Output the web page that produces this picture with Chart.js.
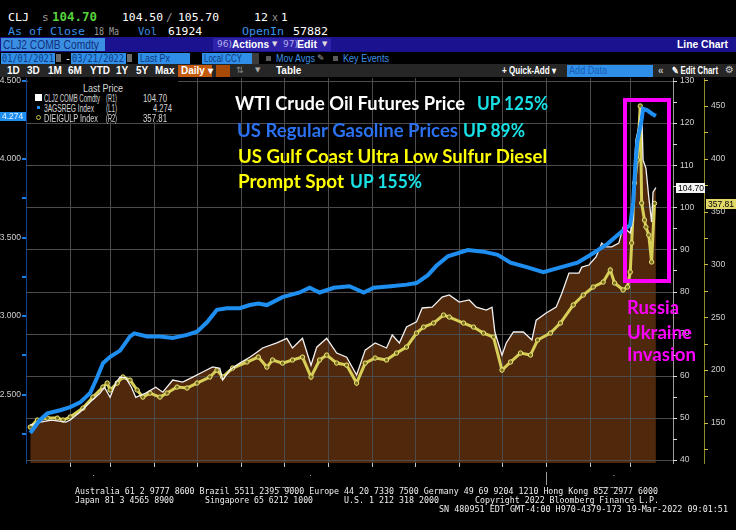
<!DOCTYPE html>
<html>
<head>
<meta charset="utf-8">
<title>WTI, gasoline and diesel</title>
<script src="https://cdn.jsdelivr.net/npm/chart.js@4.4.1/dist/chart.umd.min.js"></script>
<style>
  body { margin:0; width:736px; height:530px; background:#000; overflow:hidden; position:relative; }
  canvas { position:absolute; left:0; top:66px; }
  .t { position:absolute; white-space:nowrap; line-height:1; transform-origin:left center; }
  .m { font-family:"DejaVu Sans Mono", monospace; }
  .s { font-family:"DejaVu Sans", sans-serif; }
  .n { font-family:"Liberation Sans", sans-serif; }
  .b { position:absolute; }
  .ann { position:absolute; white-space:nowrap; line-height:1; font-family:Lato, sans-serif; font-weight:700; font-size:18px; transform-origin:left center; }
</style>
</head>
<body>
<canvas id="chart" width="736" height="464"></canvas>

<!-- ticker rows -->
<div class="t m" style="left:8px;top:12px;font-size:11px;color:#fff" data-w="21">CLJ</div>
<div class="t m" style="left:42px;top:12px;font-size:11px;color:#9a9a9a">s</div>
<div class="t m" style="left:52px;top:11px;font-size:12px;color:#58d23c;font-weight:bold" data-w="45">104.70</div>
<div class="t m" style="left:122px;top:12px;font-size:11px;color:#fff" data-w="41">104.50</div>
<div class="t m" style="left:166px;top:12px;font-size:11px;color:#9a9a9a">/</div>
<div class="t m" style="left:178px;top:12px;font-size:11px;color:#fff" data-w="41">105.70</div>
<div class="t m" style="left:254px;top:12px;font-size:11px;color:#fff" data-w="14">12</div>
<div class="t m" style="left:272px;top:13px;font-size:10px;color:#9a9a9a">x</div>
<div class="t m" style="left:281px;top:12px;font-size:11px;color:#fff">1</div>

<div class="t m" style="left:8px;top:26px;font-size:11px;color:#3a93ea" data-w="77">As of Close</div>
<div class="t m" style="left:94px;top:26px;font-size:11px;color:#9a9a9a" data-w="25">18 Ma</div>
<div class="t m" style="left:138px;top:26px;font-size:11px;color:#3a93ea" data-w="19">Vol</div>
<div class="t m" style="left:168px;top:26px;font-size:11px;color:#fff" data-w="34">61924</div>
<div class="t m" style="left:242px;top:26px;font-size:11px;color:#3a93ea" data-w="42">OpenIn</div>
<div class="t m" style="left:293px;top:26px;font-size:11px;color:#fff" data-w="35">57882</div>

<!-- security bar -->
<div class="b" style="left:0;top:37px;width:736px;height:15px;background:#1b1290"></div>
<div class="b" style="left:1px;top:38px;width:104px;height:13px;background:#3a8fe3"></div>
<div class="t n" style="left:3px;top:39px;font-size:12px;color:#14307e" data-w="96">CLJ2 COMB Comdty</div>
<div class="b" style="left:213px;top:38px;width:118px;height:13px;background:#2e22a8"></div>
<div class="t s" style="left:217px;top:40px;font-size:9px;color:#b4acec">96)</div>
<div class="t n" style="left:232px;top:39px;font-size:11px;color:#fff;font-weight:bold" data-w="37">Actions</div>
<div class="t s" style="left:272px;top:41px;font-size:7px;color:#ddd">▼</div>
<div class="t s" style="left:283px;top:40px;font-size:9px;color:#b4acec">97)</div>
<div class="t n" style="left:297px;top:39px;font-size:11px;color:#fff;font-weight:bold" data-w="20">Edit</div>
<div class="t s" style="left:322px;top:41px;font-size:7px;color:#ddd">▼</div>
<div class="t n" style="left:677px;top:39px;font-size:11px;color:#fff;font-weight:bold" data-w="51">Line Chart</div>

<!-- date range row -->
<div class="b" style="left:1px;top:53px;width:54px;height:11px;background:#2f8fe8"></div>
<div class="t m" style="left:2px;top:54px;font-size:10px;color:#123a80" data-w="52">01/01/2021</div>
<div class="b" style="left:56px;top:54px;width:5px;height:8px;background:#6a6a6a"></div>
<div class="t m" style="left:65px;top:54px;font-size:10px;color:#fff">-</div>
<div class="b" style="left:71px;top:53px;width:55px;height:11px;background:#2f8fe8"></div>
<div class="t m" style="left:72px;top:54px;font-size:10px;color:#123a80" data-w="52">03/21/2022</div>
<div class="b" style="left:127px;top:54px;width:5px;height:8px;background:#6a6a6a"></div>
<div class="b" style="left:138px;top:53px;width:52px;height:11px;background:#2f8fe8"></div>
<div class="t n" style="left:140px;top:54px;font-size:10px;color:#123a80" data-w="30">Last Px</div>
<div class="b" style="left:202px;top:53px;width:50px;height:11px;background:#2f8fe8"></div>
<div class="t n" style="left:204px;top:54px;font-size:10px;color:#123a80" data-w="38">Local CCY</div>
<div class="b" style="left:252px;top:53px;width:7px;height:11px;background:#3c3c3c"></div>
<div class="b" style="left:266px;top:56px;width:5px;height:5px;background:#5a5a5a"></div>
<div class="t n" style="left:276px;top:54px;font-size:10px;color:#3b8fe6" data-w="39">Mov Avgs</div>
<div class="t s" style="left:317px;top:54px;font-size:9px;color:#aaa">✎</div>
<div class="b" style="left:333px;top:56px;width:5px;height:5px;background:#5a5a5a"></div>
<div class="t n" style="left:343px;top:54px;font-size:10px;color:#3b8fe6" data-w="46">Key Events</div>

<!-- period row -->
<div class="b" style="left:0;top:64px;width:736px;height:13px;background:#262626"></div>
<div class="t n" style="left:7px;top:66px;font-size:10px;color:#fff;font-weight:bold">1D</div>
<div class="t n" style="left:27px;top:66px;font-size:10px;color:#fff;font-weight:bold">3D</div>
<div class="t n" style="left:48px;top:66px;font-size:10px;color:#fff;font-weight:bold">1M</div>
<div class="t n" style="left:68px;top:66px;font-size:10px;color:#fff;font-weight:bold">6M</div>
<div class="t n" style="left:90px;top:66px;font-size:10px;color:#fff;font-weight:bold">YTD</div>
<div class="t n" style="left:116px;top:66px;font-size:10px;color:#fff;font-weight:bold">1Y</div>
<div class="t n" style="left:136px;top:66px;font-size:10px;color:#fff;font-weight:bold">5Y</div>
<div class="t n" style="left:155px;top:66px;font-size:10px;color:#fff;font-weight:bold">Max</div>
<div class="b" style="left:178px;top:65px;width:34px;height:12px;background:#c45a0c"></div>
<div class="t n" style="left:181px;top:66px;font-size:10px;color:#fff;font-weight:bold">Daily ▾</div>
<div class="b" style="left:216px;top:65px;width:14px;height:12px;background:#a84a08"></div>
<div class="t s" style="left:236px;top:66px;font-size:9px;color:#888">⇅</div>
<div class="t s" style="left:255px;top:67px;font-size:7px;color:#aaa">▼</div>
<div class="t n" style="left:276px;top:66px;font-size:10px;color:#fff;font-weight:bold">Table</div>
<div class="t n" style="left:502px;top:66px;font-size:10px;color:#fff;font-weight:bold" data-w="54">+ Quick-Add ▾</div>
<div class="b" style="left:567px;top:65px;width:86px;height:12px;background:#2f8fe8"></div>
<div class="t n" style="left:569px;top:66px;font-size:10px;color:#1b5cb0" data-w="38">Add Data</div>
<div class="t n" style="left:658px;top:66px;font-size:10px;color:#bbb;font-weight:bold">«</div>
<div class="t n" style="left:672px;top:66px;font-size:10px;color:#fff;font-weight:bold" data-w="46">✎ Edit Chart</div>
<div class="t s" style="left:725px;top:65px;font-size:10px;color:#ccc">⚙</div>

<!-- legend -->
<div class="b" style="left:28px;top:78px;width:150px;height:44px;background:#000"></div>
<div class="t n" style="left:83px;top:84px;font-size:10px;color:#d8d8d8" data-w="40">Last Price</div>
<div class="b" style="left:35px;top:94px;width:7px;height:7px;background:#fff"></div>
<div class="t n" style="left:44px;top:94px;font-size:10px;color:#d8d8d8" data-w="56">CLJ2 COMB Comdty</div>
<div class="t n" style="left:106px;top:94px;font-size:10px;color:#d8d8d8" data-w="11">(R1)</div>
<div class="t n" style="left:143px;top:94px;font-size:10px;color:#d8d8d8" data-w="24">104.70</div>
<div class="b" style="left:37px;top:106px;width:3px;height:3px;background:#1e8ff0"></div>
<div class="t n" style="left:44px;top:104px;font-size:10px;color:#d8d8d8" data-w="50">3AGSREG Index</div>
<div class="t n" style="left:106px;top:104px;font-size:10px;color:#d8d8d8" data-w="11">(L1)</div>
<div class="t n" style="left:153px;top:104px;font-size:10px;color:#d8d8d8" data-w="19">4.274</div>
<div class="b" style="left:36px;top:115px;width:3px;height:3px;border:1px solid #c8c040;border-radius:50%"></div>
<div class="t n" style="left:44px;top:114px;font-size:10px;color:#d8d8d8" data-w="54">DIEIGULP Index</div>
<div class="t n" style="left:106px;top:114px;font-size:10px;color:#d8d8d8" data-w="11">(R2)</div>
<div class="t n" style="left:143px;top:114px;font-size:10px;color:#d8d8d8" data-w="24">357.81</div>

<!-- last value tags -->
<div class="b" style="left:0;top:112px;width:26px;height:9px;background:#1e8ff0"></div>
<div class="t n" style="left:2px;top:112px;font-size:8.5px;color:#e8f2ff">4.274</div>
<div class="b" style="left:676px;top:183px;width:29px;height:10px;background:#f4f4f4"></div>
<div class="t n" style="left:678px;top:184px;font-size:8.5px;color:#000">104.70</div>
<div class="b" style="left:706px;top:199px;width:30px;height:10px;background:#e2d868"></div>
<div class="t n" style="left:708px;top:200px;font-size:8.5px;color:#000">357.81</div>

<!-- annotations -->
<div class="ann" style="left:235px;top:94px;color:#fff" data-w="230">WTI Crude Oil Futures Price</div>
<div class="ann" style="left:477px;top:94px;color:#19e2e6" data-w="71">UP 125%</div>
<div class="ann" style="left:237px;top:121px;color:#2b70ee" data-w="221">US Regular Gasoline Prices</div>
<div class="ann" style="left:463px;top:121px;color:#19e2e6" data-w="62">UP 89%</div>
<div class="ann" style="left:238px;top:147px;color:#ffff00" data-w="309">US Gulf Coast Ultra Low Sulfur Diesel</div>
<div class="ann" style="left:238px;top:172px;color:#ffff00" data-w="106">Prompt Spot</div>
<div class="ann" style="left:350px;top:172px;color:#19e2e6" data-w="72">UP 155%</div>

<div class="b" style="left:623px;top:98px;width:40px;height:177px;border:4px solid #ff00ff"></div>
<div class="ann" style="left:627px;top:298px;color:#ff00ff" data-w="52">Russia</div>
<div class="ann" style="left:627px;top:323px;color:#ff00ff" data-w="65">Ukraine</div>
<div class="ann" style="left:627px;top:345px;color:#ff00ff" data-w="69">Invasion</div>

<!-- footer -->
<div class="t m" style="left:75px;top:487px;font-size:9px;color:#eee" data-w="583">Australia 61 2 9777 8600 Brazil 5511 2395 9000 Europe 44 20 7330 7500 Germany 49 69 9204 1210 Hong Kong 852 2977 6000</div>
<div class="t m" style="left:75px;top:496px;font-size:9px;color:#eee" data-w="99">Japan 81 3 4565 8900</div>
<div class="t m" style="left:205px;top:496px;font-size:9px;color:#eee" data-w="108">Singapore 65 6212 1000</div>
<div class="t m" style="left:344px;top:496px;font-size:9px;color:#eee" data-w="95">U.S. 1 212 318 2000</div>
<div class="t m" style="left:475px;top:496px;font-size:9px;color:#eee" data-w="184">Copyright 2022 Bloomberg Finance L.P.</div>
<div class="t m" style="left:439px;top:505px;font-size:9px;color:#eee" data-w="289">SN 480951 EDT  GMT-4:00 H970-4379-173 19-Mar-2022 09:01:51</div>

<script>
// data, Jan 2021 - Mar 2022
const monthLabels = ['Jan','Feb','Mar','Apr','May','Jun','Jul','Aug','Sep','Oct','Nov','Dec','Jan','Feb','Mar'];
const monthStarts = ['2021-01-01','2021-02-01','2021-03-01','2021-04-01','2021-05-01','2021-06-01','2021-07-01',
  '2021-08-01','2021-09-01','2021-10-01','2021-11-01','2021-12-01','2022-01-01','2022-02-01','2022-03-01','2022-04-01'];
const yearLabels = ['2021', '2022'];

// CLJ2 COMB Comdty, R1
const wtiDates = [
  '2021-01-04','2021-01-11','2021-01-19','2021-01-29',
  '2021-02-01','2021-02-08','2021-02-15','2021-02-22','2021-02-25',
  '2021-03-01','2021-03-05','2021-03-08','2021-03-12','2021-03-16','2021-03-19','2021-03-26',
  '2021-04-02','2021-04-07','2021-04-14','2021-04-21','2021-04-28',
  '2021-05-05','2021-05-12','2021-05-17','2021-05-19','2021-05-24','2021-05-31',
  '2021-06-07','2021-06-12','2021-06-16','2021-06-26',
  '2021-07-03','2021-07-07','2021-07-14','2021-07-20','2021-07-24','2021-07-31',
  '2021-08-07','2021-08-14','2021-08-21','2021-08-27',
  '2021-09-03','2021-09-11','2021-09-15','2021-09-20','2021-09-25',
  '2021-10-02','2021-10-06','2021-10-13','2021-10-20','2021-10-25',
  '2021-11-01','2021-11-08','2021-11-13','2021-11-20','2021-11-24','2021-11-26',
  '2021-12-01','2021-12-04','2021-12-09','2021-12-16','2021-12-22','2021-12-25',
  '2022-01-01','2022-01-08','2022-01-12','2022-01-17','2022-01-24','2022-01-26','2022-01-31',
  '2022-02-05','2022-02-09','2022-02-12','2022-02-16','2022-02-21','2022-02-24',
  '2022-03-01','2022-03-03','2022-03-04','2022-03-05','2022-03-07','2022-03-09','2022-03-10',
  '2022-03-12','2022-03-14','2022-03-16','2022-03-17','2022-03-19'
];
const wtiPrices = [
  48.3, 49.0, 49.5, 49.0,
  49.5, 51.4, 53.8, 55.9, 57.3,
  54.9, 58.3, 59.7, 59.5, 57.3, 54.9, 55.9,
  57.3, 56.1, 59.0, 58.5, 59.7,
  60.9, 62.1, 61.8, 59.0, 61.4, 63.0,
  64.4, 65.6, 66.6, 67.8,
  68.9, 66.6, 68.9, 62.5, 66.8, 68.9,
  65.4, 64.4, 60.2, 66.1,
  67.8, 66.6, 69.7, 67.8, 71.6,
  72.8, 76.1, 76.3, 78.7, 79.2,
  77.5, 78.0, 76.3, 75.6, 76.3, 70.4,
  64.9, 67.8, 70.4, 70.4, 68.5, 73.2,
  74.9, 76.3, 79.6, 84.4, 84.4, 85.8, 86.3,
  88.2, 91.5, 90.6, 90.6, 91.5, 95.3,
  93.9, 97.0, 110.5, 116.0, 119.1, 123.8, 111.2,
  109.3, 102.4, 96.5, 103.6, 104.7
];

// 3AGSREG Index, L1
const gasDates = [
  '2021-01-04','2021-01-11','2021-01-16','2021-01-25',
  '2021-02-01','2021-02-08','2021-02-15','2021-02-20','2021-02-24',
  '2021-03-01','2021-03-08','2021-03-15','2021-03-18','2021-03-27',
  '2021-04-05','2021-04-14','2021-04-24',
  '2021-05-01','2021-05-08','2021-05-15','2021-05-22','2021-05-31',
  '2021-06-07','2021-06-13','2021-06-19','2021-06-30',
  '2021-07-12','2021-07-19','2021-07-26',
  '2021-08-05','2021-08-16','2021-08-26',
  '2021-09-02','2021-09-14','2021-09-25',
  '2021-10-02','2021-10-10','2021-10-16','2021-10-24',
  '2021-11-07','2021-11-18','2021-11-28',
  '2021-12-07','2021-12-19','2021-12-30',
  '2022-01-11','2022-01-23',
  '2022-02-03','2022-02-13','2022-02-22',
  '2022-03-01','2022-03-03','2022-03-05','2022-03-06','2022-03-09','2022-03-10',
  '2022-03-13','2022-03-16','2022-03-19'
];
const gasPrices = [
  2.255, 2.34, 2.38, 2.40,
  2.42, 2.45, 2.51, 2.61, 2.70,
  2.74, 2.78, 2.87, 2.89, 2.87,
  2.87, 2.86, 2.88,
  2.90, 2.96, 3.04, 3.05, 3.05,
  3.07, 3.08, 3.07, 3.12,
  3.15, 3.18, 3.15,
  3.18, 3.19, 3.15,
  3.18, 3.19, 3.20,
  3.21, 3.26, 3.32, 3.38,
  3.42, 3.41, 3.39,
  3.34, 3.31, 3.28,
  3.31, 3.34,
  3.40, 3.46, 3.53,
  3.58, 3.72, 4.01, 4.11, 4.25, 4.32,
  4.31, 4.29, 4.274
];

// DIEIGULP Index, R2
const dieselDates = [
  '2021-01-04','2021-01-09','2021-01-16','2021-01-23','2021-01-27',
  '2021-02-01','2021-02-10','2021-02-17','2021-02-24','2021-02-27',
  '2021-03-01','2021-03-06','2021-03-10','2021-03-15','2021-03-20','2021-03-24','2021-03-29',
  '2021-04-05','2021-04-10','2021-04-17','2021-04-24',
  '2021-05-01','2021-05-10','2021-05-15','2021-05-19','2021-05-26',
  '2021-06-05','2021-06-13','2021-06-19','2021-06-23','2021-06-30',
  '2021-07-07','2021-07-14','2021-07-20','2021-07-26','2021-07-31',
  '2021-08-07','2021-08-14','2021-08-21','2021-08-27',
  '2021-09-03','2021-09-11','2021-09-18','2021-09-25',
  '2021-10-02','2021-10-07','2021-10-14','2021-10-21','2021-10-25',
  '2021-11-04','2021-11-11','2021-11-18','2021-11-25',
  '2021-12-01','2021-12-07','2021-12-14','2021-12-21','2021-12-26',
  '2022-01-04','2022-01-11','2022-01-20','2022-01-27',
  '2022-02-03','2022-02-10','2022-02-15','2022-02-18','2022-02-24','2022-02-27',
  '2022-03-01','2022-03-02','2022-03-04','2022-03-06','2022-03-08','2022-03-09',
  '2022-03-11','2022-03-12','2022-03-14','2022-03-16','2022-03-18'
];
const dieselPrices = [
  146.0, 152.7, 154.5, 154.5, 152.7,
  155.5, 164.0, 174.4, 183.9, 187.7,
  181.1, 187.7, 193.4, 190.5, 181.1, 174.4, 178.2,
  174.4, 178.2, 183.9, 183.0,
  187.7, 193.4, 200.0, 193.4, 201.9,
  207.6, 212.3, 202.8, 209.5, 206.6,
  209.5, 212.3, 193.4, 209.5, 214.2,
  206.6, 204.7, 187.7, 206.6,
  211.4, 209.5, 216.1, 221.8,
  235.0, 240.7, 244.5, 252.1, 250.2,
  244.5, 240.7, 235.0, 231.3,
  200.0, 207.6, 216.1, 214.2, 228.4,
  235.0, 244.5, 261.6, 271.0,
  278.6, 283.3, 294.7, 282.4, 275.8, 278.6,
  292.8, 320.3, 377.1, 398.9, 450.0, 358.1,
  342.0, 335.4, 327.8, 302.3, 357.8
];

const leftTicks = [2.25, 2.5, 2.75, 3.0, 3.25, 3.5, 3.75, 4.0, 4.25, 4.5];
const r1Ticks = [40, 45, 50, 55, 60, 65, 70, 75, 80, 85, 90, 95, 100, 105, 110, 115, 120, 125, 130];
const r2Ticks = [125, 150, 175, 200, 225, 250, 275, 300, 325, 350, 375, 400, 425, 450, 475];

// day number from 1 Jan 2021
const DAY0 = Date.UTC(2021, 0, 1);
const toDay = s => {
  const [y, m, d] = s.split('-').map(Number);
  return (Date.UTC(y, m - 1, d) - DAY0) / 864e5;
};
const points = (dates, vals) => dates.map((d, i) => ({ x: toDay(d), y: vals[i] }));

const X_MAX = 454;
const monthDays = monthStarts.map(toDay);
const gridDays = monthDays.slice(1, -1);
const midDays = monthLabels.map((m, i) => (monthDays[i] + Math.min(monthDays[i + 1], X_MAX)) / 2);
const yearDays = [(0 + toDay('2022-01-01')) / 2, (toDay('2022-01-01') + X_MAX) / 2];

const labelFont = { family: 'Liberation Sans', size: 8.5 };
const gridGray = 'rgb(76,76,76)';
const hidden = 'rgba(0,0,0,0)';

const setTicks = list => scale => { scale.ticks = list.map(v => ({ value: v })); };
const fixW = w => s => { s.width = w; s.paddingTop = 0; s.paddingBottom = 0; s.paddingLeft = 0; s.paddingRight = 0; };
const fixH = h => s => { s.height = h; s.paddingTop = 0; s.paddingBottom = 0; s.paddingLeft = 0; s.paddingRight = 0; };

// month / price grid and the short tick marks, placed with the chart's own scales
// (dim solid lines: the dotted strokes did not survive the headless render)
const bbgGrid = {
  id: 'bbgGrid',
  beforeDatasetsDraw(chart) {
    const { ctx, chartArea: a, scales } = chart;
    const rect = (x, y, w, h, c) => { ctx.fillStyle = c; ctx.fillRect(x, y, w, h); };
    const top = Math.round(a.top), bottom = Math.round(a.bottom);
    const left = Math.round(a.left), right = Math.round(a.right);
    ctx.save();
    gridDays.forEach(d => {
      const x = Math.round(scales.x.getPixelForValue(d));
      rect(x, top, 1, bottom - top, gridGray);
      rect(x, bottom, 1, 4, '#c8c8c8');
    });
    r1Ticks.forEach(v => {
      const y = Math.round(scales.yR1.getPixelForValue(v));
      if (v % 10 === 0) rect(left, y, right - left, 1, gridGray);
      rect(right, y, 4, 1, '#dcdcdc');
    });
    r2Ticks.forEach(v => rect(Math.round(scales.yR2.left), Math.round(scales.yR2.getPixelForValue(v)), 4, 1, '#c8c040'));
    leftTicks.forEach(v => rect(left - 4, Math.round(scales.yL.getPixelForValue(v)) - 1, 4, 2, '#1e7fe0'));
    rect(Math.round(scales.x.getPixelForValue(toDay('2022-01-01'))), bottom + 9, 1, 13, '#9a9a9a');
    ctx.restore();
  }
};

const quiet = { color: hidden, tickColor: hidden, tickLength: 4 };

const config = {
  type: 'line',
  data: {
    datasets: [
      {
        label: '3AGSREG Index',
        data: points(gasDates, gasPrices),
        xAxisID: 'x', yAxisID: 'yL',
        borderColor: '#1e8ff0', borderWidth: 4,
        pointRadius: 0, fill: false, order: 0
      },
      {
        label: 'CLJ2 COMB Comdty',
        data: points(wtiDates, wtiPrices),
        xAxisID: 'x', yAxisID: 'yR1',
        borderColor: '#f2f2f2', borderWidth: 1.3,
        backgroundColor: 'rgba(145,72,22,0.55)', fill: 'start',
        pointRadius: 0, order: 1
      },
      {
        label: 'DIEIGULP Index',
        data: points(dieselDates, dieselPrices),
        xAxisID: 'x', yAxisID: 'yR2',
        borderColor: '#d6ce56', borderWidth: 3,
        pointRadius: 2.2, pointBorderWidth: 1,
        pointBorderColor: '#ece476', pointBackgroundColor: '#7a7020',
        fill: false, order: 2
      }
    ]
  },
  plugins: [bbgGrid],
  options: {
    responsive: false,
    animation: false,
    devicePixelRatio: 1,
    layout: { padding: { top: 12, bottom: 42, left: 0, right: 0 } },
    plugins: {
      legend: { display: false },
      tooltip: { enabled: false },
      filler: { drawTime: 'beforeDatasetsDraw' }
    },
    scales: {
      x: {
        type: 'linear', axis: 'x', position: 'bottom', weight: 0,
        min: 0, max: X_MAX, bounds: 'data',
        afterBuildTicks: setTicks(gridDays),
        afterFit: fixH(4),
        ticks: { display: false },
        grid: quiet,
        border: { display: false }
      },
      xm: {
        type: 'linear', axis: 'x', position: 'bottom', weight: 1,
        min: 0, max: X_MAX, bounds: 'data',
        afterBuildTicks: setTicks(midDays),
        afterFit: fixH(9),
        ticks: { color: '#d0d0d0', font: labelFont, padding: 0, autoSkip: false, maxRotation: 0,
                 callback: (v, i) => monthLabels[i] },
        grid: { display: false },
        border: { display: false }
      },
      xy: {
        type: 'linear', axis: 'x', position: 'bottom', weight: 2,
        min: 0, max: X_MAX, bounds: 'data',
        afterBuildTicks: setTicks(yearDays),
        afterFit: fixH(12),
        ticks: { color: '#d0d0d0', font: labelFont, padding: 2, autoSkip: false, maxRotation: 0,
                 callback: (v, i) => yearLabels[i] },
        grid: { display: false },
        border: { display: false }
      },
      yL: {
        type: 'linear', axis: 'y', position: 'left',
        min: 2.064, max: 4.516, bounds: 'data',
        afterBuildTicks: setTicks(leftTicks),
        afterFit: fixW(26),
        ticks: { color: '#d0d0d0', font: labelFont, padding: 1,
                 callback: v => (Math.round(v * 100) % 50 === 0 ? v.toFixed(3) : '') },
        grid: quiet,
        border: { color: '#133f96', width: 1 }
      },
      yR1: {
        type: 'linear', axis: 'y', position: 'right', weight: 0,
        min: 39.3, max: 130.7, bounds: 'data',
        afterBuildTicks: setTicks(r1Ticks),
        afterFit: fixW(31),
        ticks: { color: '#d0d0d0', font: labelFont, padding: 3,
                 callback: v => (v % 10 === 0 ? String(v) : '') },
        grid: quiet,
        border: { color: '#9a9a9a' }
      },
      yR2: {
        type: 'linear', axis: 'y', position: 'right', weight: 1,
        min: 112, max: 476.5, bounds: 'data',
        afterBuildTicks: setTicks(r2Ticks),
        afterFit: fixW(32),
        ticks: { color: '#d0d0d0', font: labelFont, padding: 3,
                 callback: v => (v % 50 === 0 ? String(v) : '') },
        grid: quiet,
        border: { color: '#8c8a2a' }
      }
    }
  }
};

new Chart(document.getElementById('chart'), config);

// squeeze overlay texts to the widths they have on the screen
document.querySelectorAll('[data-w]').forEach(el => {
  const w = el.getBoundingClientRect().width;
  if (w > 0) el.style.transform = 'scaleX(' + (el.dataset.w / w) + ')';
});
</script>
</body>
</html>
